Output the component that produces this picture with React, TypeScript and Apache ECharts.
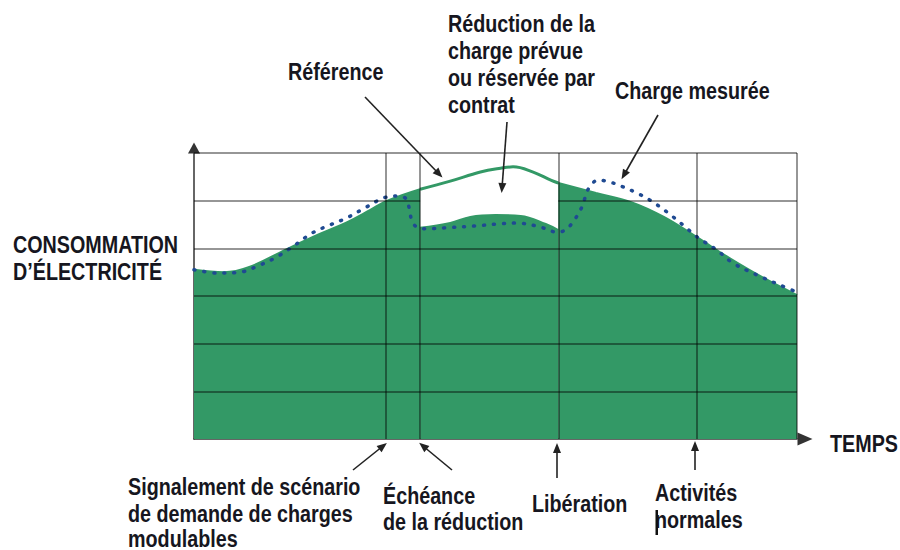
import React, { useEffect, useRef } from 'react';
import * as echarts from 'echarts';

// x: time in hours (0..24), y: consumption units (0..6)
const refBefore: number[][] = [[0, 3.55], [1.2, 3.5], [2.2, 3.61], [3.8, 4.01], [5, 4.3], [6.1, 4.55], [7, 4.8], [7.65, 4.99], [9, 5.24]];
const refDuring: number[][] = [[9, 5.24], [10.2, 5.41], [11.4, 5.6], [12.2, 5.68], [12.7, 5.71], [13.5, 5.6], [14.2, 5.43], [14.5, 5.37]];
const refAfter: number[][] = [[14.5, 5.37], [16, 5.16], [17.4, 4.97], [18.7, 4.66], [20, 4.24], [21.3, 3.8], [22.6, 3.4], [24, 3.02]];
const reduced: number[][] = [[9, 4.43], [10.2, 4.53], [11, 4.66], [12, 4.7], [13, 4.68], [14, 4.51], [14.5, 4.38]];
const measured: number[][] = [
  [0, 3.55], [0.96, 3.48], [1.83, 3.5], [2.63, 3.65], [3.3, 3.82], [4.02, 4.07], [4.7, 4.32], [5.41, 4.49],
  [6.09, 4.64], [6.81, 4.85], [7.56, 5.06], [8.08, 5.1], [8.44, 5.04], [8.58, 4.8], [8.66, 4.6], [8.85, 4.45],
  [9.2, 4.41], [10, 4.43], [11.2, 4.47], [12.06, 4.51], [12.86, 4.53], [13.77, 4.45], [14.45, 4.34], [14.77, 4.38],
  [15.08, 4.55], [15.44, 4.87], [15.7, 5.25], [16.08, 5.43], [16.56, 5.39], [17.07, 5.29], [17.63, 5.16],
  [18.15, 5.01], [18.83, 4.76], [19.46, 4.49], [20.02, 4.24], [20.82, 3.96], [21.45, 3.69], [22.41, 3.44],
  [23.32, 3.23], [24, 3.08],
];
const eventTimes: number[] = [7.65, 9, 14.5, 20, 24];
const levels: number[] = [1, 2, 3, 4, 6];
const splitLevel = 5; // hidden inside the reduction notch

const GREEN = '#339966';
const FONT = '"Liberation Sans", Arial, sans-serif';

function label(text: string, x: number, y: number) {
  return {
    type: 'text',
    x,
    y,
    scaleX: 0.84,
    silent: true,
    style: {
      text,
      fill: '#161620',
      fontFamily: FONT,
      fontWeight: 'bold',
      fontSize: 23.5,
      textAlign: 'left',
      textVerticalAlign: 'middle',
      verticalAlign: 'middle',
    },
  };
}

export default function App() {
  const ref = useRef<HTMLDivElement>(null);
  useEffect(() => {
    if (!ref.current) return;
    const chart = echarts.init(ref.current, undefined, { renderer: 'svg' });
    const gridLineStyle = { color: 'rgba(0,0,0,0.55)', width: 1.5, type: 'solid' as const };
    const gridLines: any[] = [];
    levels.forEach((l) => gridLines.push([{ coord: [0, l] }, { coord: [24, l] }]));
    gridLines.push([{ coord: [0, splitLevel] }, { coord: [9, splitLevel] }]);
    gridLines.push([{ coord: [14.5, splitLevel] }, { coord: [24, splitLevel] }]);
    eventTimes.forEach((t) => gridLines.push([{ coord: [t, 0] }, { coord: [t, 6] }]));

    const arrows = [
      [{ x: 365, y: 97 }, { x: 439, y: 174 }],
      [{ x: 507, y: 122 }, { x: 502, y: 188 }],
      [{ x: 658, y: 115 }, { x: 624, y: 175 }],
      [{ x: 353, y: 470 }, { x: 383, y: 446 }],
      [{ x: 452, y: 470 }, { x: 423, y: 446 }],
      [{ x: 557, y: 478 }, { x: 557, y: 448 }],
      [{ x: 695, y: 470 }, { x: 695, y: 446 }],
    ];

    const areaBase = {
      type: 'line',
      smooth: 0.4,
      symbol: 'none',
      silent: true,
      z: 1,
      lineStyle: { color: GREEN, width: 2 },
      areaStyle: { color: GREEN, opacity: 1 },
    };

    chart.setOption({
      animation: false,
      grid: { left: 194, top: 153, right: 103, bottom: 111 },
      xAxis: {
        type: 'value', min: 0, max: 24, interval: 1,
        axisLine: { show: true, lineStyle: { color: '#333', width: 1.5 }, symbol: ['none', 'triangle'], symbolSize: [13, 15], symbolOffset: [0, 8] },
        axisTick: { show: false }, axisLabel: { show: false }, splitLine: { show: false },
      },
      yAxis: {
        type: 'value', min: 0, max: 6, interval: 1,
        axisLine: { show: true, lineStyle: { color: '#333', width: 1.5 }, symbol: ['none', 'triangle'], symbolSize: [12, 11], symbolOffset: [0, 5] },
        axisTick: { show: false }, axisLabel: { show: false }, splitLine: { show: false },
      },
      series: [
        { ...areaBase, name: 'Référence', data: refBefore },
        { ...areaBase, name: 'Charge réduite', data: reduced },
        { ...areaBase, name: 'Référence (après)', data: refAfter },
        {
          type: 'line', name: 'Référence (réduction)', data: refDuring, smooth: 0.4, symbol: 'none', silent: true, z: 2,
          lineStyle: { color: GREEN, width: 3 },
        },
        {
          type: 'line', name: 'grille', data: [], silent: true, z: 3,
          markLine: {
            silent: true, symbol: ['none', 'none'], label: { show: false }, lineStyle: gridLineStyle,
            animation: false, data: gridLines,
          },
        },
        {
          type: 'line', name: 'Charge mesurée', data: measured, smooth: 0.35, symbol: 'none', silent: true, z: 4,
          lineStyle: { color: '#1f4a92', width: 3.5, type: [1, 9], cap: 'round' },
        },
        {
          type: 'line', name: 'flèches', data: [], silent: true, z: 5,
          markLine: {
            silent: true, symbol: ['none', 'triangle'], symbolSize: [8, 10], label: { show: false },
            lineStyle: { color: '#222', width: 1.6, type: 'solid' }, animation: false, data: arrows,
          },
        },
      ],
      graphic: [
        label('Référence', 288, 72),
        label('Réduction de la', 448, 23.5),
        label('charge prévue', 448, 51),
        label('ou réservée par', 448, 78),
        label('contrat', 448, 105),
        label('Charge mesurée', 615, 90.5),
        label('CONSOMMATION', 13, 244.5),
        label('D’ÉLECTRICITÉ', 13, 271.5),
        label('TEMPS', 830, 443.5),
        label('Signalement de scénario', 128, 486.5),
        label('de demande de charges', 128, 514),
        label('modulables', 128, 539),
        label('Échéance', 383, 496),
        label('de la réduction', 383, 522),
        label('Libération', 532, 504),
        label('Activités', 655, 492.5),
        label('normales', 655, 520),
        { type: 'rect', silent: true, shape: { x: 655.5, y: 510, width: 2.5, height: 25 }, style: { fill: '#111' } },
      ],
    });
    return () => chart.dispose();
  }, []);
  return <div ref={ref} style={{ position: 'fixed', left: 0, top: 0, width: 900, height: 550, background: '#fff' }} />;
}
